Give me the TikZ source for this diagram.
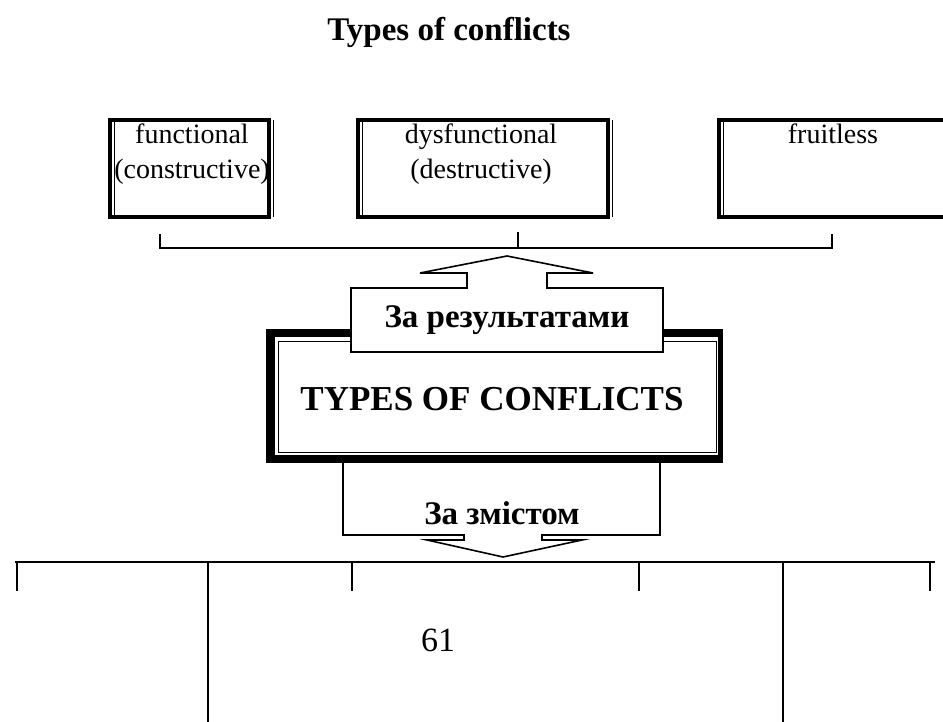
\documentclass[tikz,border=0pt]{standalone}
\usepackage{fontspec}
\setmainfont{Liberation Serif}
\begin{document}
\begin{tikzpicture}[x=1pt,y=-1pt,
  thickbox/.style={line width=4pt},
  thinline/.style={line width=1pt},
  conn/.style={line width=1.6pt},
  arrowbox/.style={line width=1.6pt, fill=white, line join=miter},
  txt/.style={font=\fontsize{28}{35}\selectfont, align=center, inner sep=0pt},
  btxt/.style={font=\fontsize{33}{36}\selectfont\bfseries, align=center, inner sep=0pt}]
\useasboundingbox (0,0) rectangle (943,722);

% title
\node[btxt] (title) at (449,32) {Types of conflicts};

% top boxes
\draw[thickbox] (110,120) rectangle (269,217);
\draw[thinline] (273,120) -- (273,217);
\draw[thinline] (114,120) -- (114,217);
\node[txt, anchor=north] (f1) at (192,124) {functional\\(constructive)};

\draw[thickbox] (358,120) rectangle (608,217);
\draw[thinline] (362,120) -- (362,217);
\draw[thinline] (612,120) -- (612,217);
\node[txt, anchor=north] (f2) at (481,124) {dysfunctional\\(destructive)};

\draw[thickbox] (719,120) -- (719,217);
\draw[thickbox] (717,120) -- (950,120);
\draw[thickbox] (717,217) -- (950,217);
\draw[thinline] (723,120) -- (723,217);
\node[txt, anchor=north] (f3) at (833,124) {fruitless};

% bracket
\coordinate (bl) at (160,248);
\coordinate (br) at (832,248);
\coordinate (bc) at (518,248);
\draw[conn] (160,234) -- (bl) -- (br) -- (832,234);
\draw[conn] (518,232) -- (bc);

% main box
\fill[black] (266,329) rectangle (723,463);
\fill[white] (275,337) rectangle (718,455);
\draw[thinline] (278,341) rectangle (716,452);
\node[btxt, font=\fontsize{35}{38}\selectfont\bfseries] (main) at (492,399) {TYPES OF CONFLICTS};

% up block arrow
\draw[arrowbox] (351,352) -- (351,288) -- (467,288) -- (467,273) -- (420,273) -- (507,256)
  -- (593,273) -- (547,273) -- (547,288) -- (663,288) -- (663,352) -- cycle;
\node[btxt] (res) at (507,320) {За результатами};

% down block arrow
\fill[white] (343,463) -- (343,535) -- (464,535) -- (464,540) -- (427,540) -- (503,557)
  -- (582,540) -- (542,540) -- (542,535) -- (660,535) -- (660,463) -- cycle;
\draw[arrowbox, fill=none] (343,463) -- (343,535) -- (464,535) -- (464,540) -- (427,540) -- (503,557)
  -- (582,540) -- (542,540) -- (542,535) -- (660,535) -- (660,463);
\node[btxt] (zm) at (502,513) {За змістом};

% bottom bracket
\coordinate (ll) at (15,562);
\coordinate (lr) at (935,562);
\draw[conn] (ll) -- (lr);
\foreach \x in {17,352,639,930} \draw[conn] (\x,562) -- (\x,591);
\foreach \x in {208,783} \draw[conn] (\x,562) -- (\x,722);

\node[txt, font=\fontsize{34}{38}\selectfont] (pg) at (438,640) {61};
\end{tikzpicture}
\end{document}
